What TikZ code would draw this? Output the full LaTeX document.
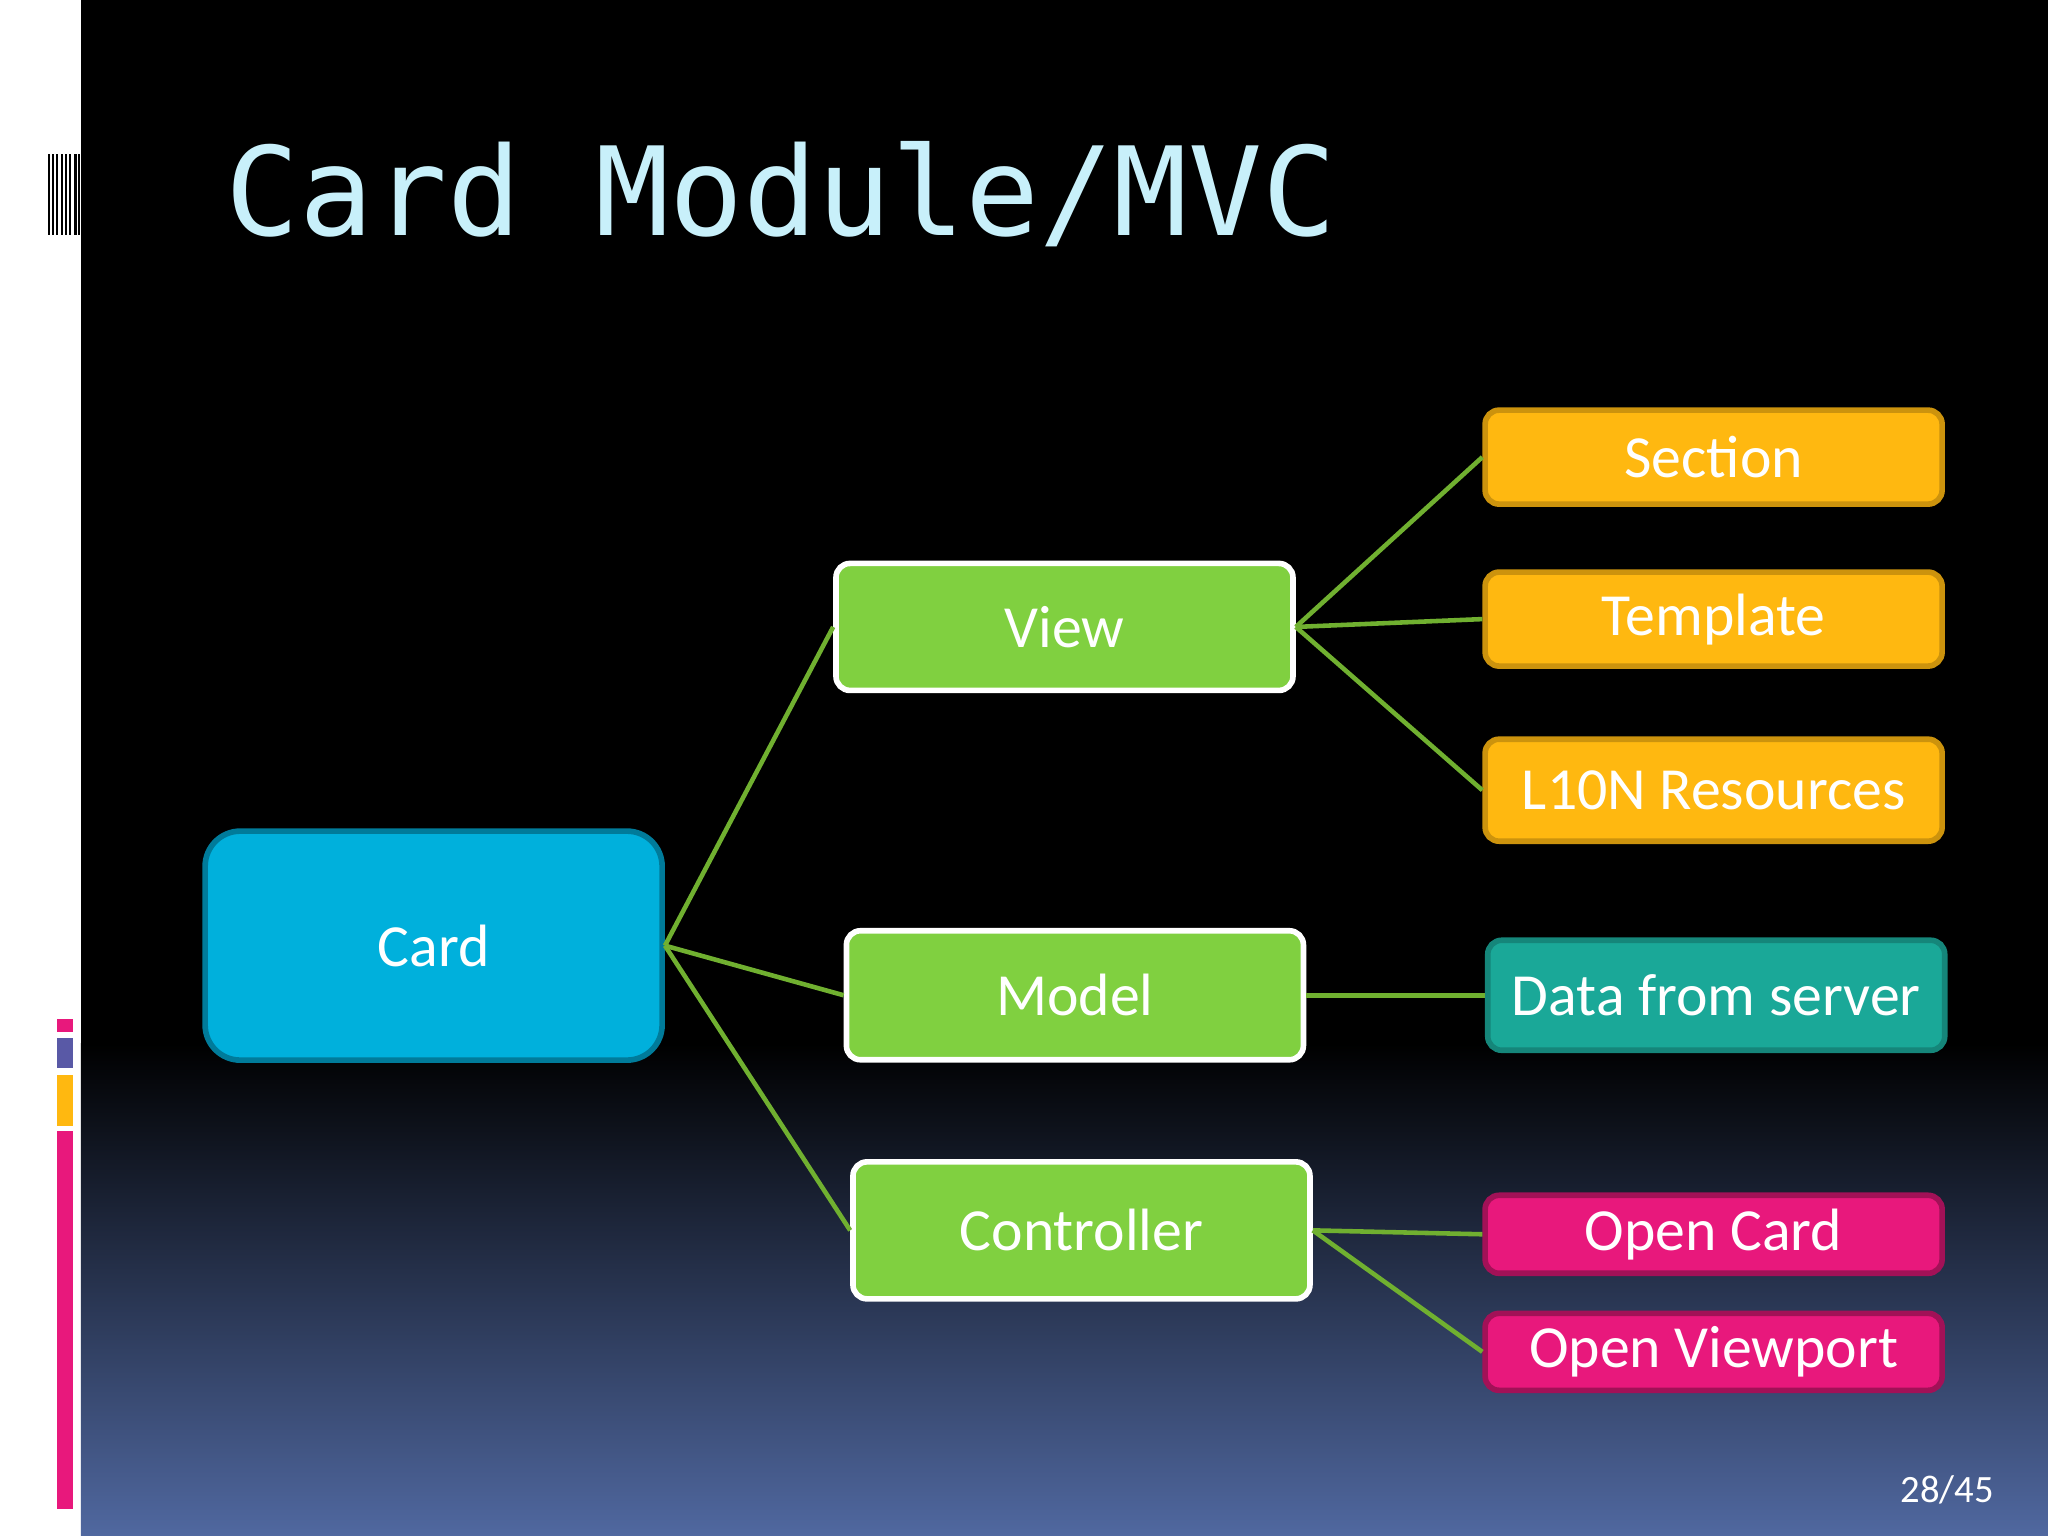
\documentclass[tikz,border=0pt]{standalone}
\usepackage{fontspec}
\setmainfont{Carlito}
\newfontfamily\monofont{DejaVu Sans Mono}
\definecolor{bgblue}{HTML}{5068A0}
\definecolor{cardblue}{HTML}{00B0DC}
\definecolor{boxgreen}{HTML}{80D040}
\definecolor{boxorange}{HTML}{FFB810}
\definecolor{boxteal}{HTML}{1AA898}
\definecolor{boxpink}{HTML}{E8187C}
\definecolor{linegreen}{HTML}{70B030}
\definecolor{titlecyan}{HTML}{C8F0FA}
\tikzset{
  box/.style={rectangle, rounded corners=4pt, line width=1.6pt, text=white,
    font=\fontsize{17}{20}\selectfont, inner sep=0pt},
  green box/.style={box, fill=boxgreen, draw=white, minimum width=4.57cm},
  orange box/.style={box, fill=boxorange, draw=boxorange!80!black, minimum width=4.57cm},
  link/.style={linegreen, line width=1.3pt}
}
\begin{document}
\begin{tikzpicture}[x=0.01306cm, y=-0.01306cm]
\useasboundingbox (0,0) rectangle (1568,1176);
% background
\fill[white] (0,0) rectangle (62,1176);
\fill[black] (62,0) rectangle (1568,800);
\shade[top color=black, bottom color=bgblue] (62,799) rectangle (1568,1176);
% left decorations
\foreach \x in {37,40,43,47,50,53,57,60}
  \fill[black] (\x,118) rectangle ++(1.6,62);
\fill[boxpink] (44,780) rectangle (56,790);
\fill[gray!70!blue] (44,795) rectangle (56,818);
\fill[boxorange] (44,823) rectangle (56,862);
\fill[boxpink] (44,866) rectangle (56,1155);
% title
\node[anchor=base west, text=titlecyan, font=\monofont\fontsize{35}{40}\selectfont, inner sep=0pt]
  (title) at (172,180) {Card Module/MVC};
% nodes
\node[box, fill=cardblue, draw=cardblue!70!black, minimum width=4.57cm, minimum height=2.29cm,
  rounded corners=10pt] (card) at (332,724) {Card};
\node[green box, minimum height=1.27cm] (view) at (815,480) {View};
\node[green box, minimum height=1.29cm] (model) at (823,762) {Model};
\node[green box, minimum height=1.37cm] (ctrl) at (828,942) {Controller};
\node[orange box, minimum height=0.94cm] (sec) at (1312,350) {Section};
\node[orange box, minimum height=0.94cm] (tpl) at (1312,474) {Template};
\node[orange box, minimum height=1.02cm] (l10n) at (1312,605) {L10N Resources};
\node[box, fill=boxteal, draw=boxteal!80!black, minimum width=4.57cm, minimum height=1.1cm]
  (data) at (1314,762) {Data from server};
\node[box, fill=boxpink, draw=boxpink!70!black, minimum width=4.57cm, minimum height=0.78cm]
  (ocard) at (1312,945) {Open Card};
\node[box, fill=boxpink, draw=boxpink!70!black, minimum width=4.57cm, minimum height=0.77cm]
  (oview) at (1312,1035) {Open Viewport};
% connectors
\begin{scope}[on background layer/.style={}]
\draw[link] (card.east) -- (view.west);
\draw[link] (card.east) -- (model.west);
\draw[link] (card.east) -- (ctrl.west);
\draw[link] (view.east) -- (sec.west);
\draw[link] (view.east) -- (tpl.west);
\draw[link] (view.east) -- (l10n.west);
\draw[link] (model.east) -- (data.west);
\draw[link] (ctrl.east) -- (ocard.west);
\draw[link] (ctrl.east) -- (oview.west);
\end{scope}
% page number
\node[anchor=base east, text=white, font=\fontsize{11}{13}\selectfont, inner sep=0pt]
  (page) at (1527,1150) {28/45};
\end{tikzpicture}
\end{document}
